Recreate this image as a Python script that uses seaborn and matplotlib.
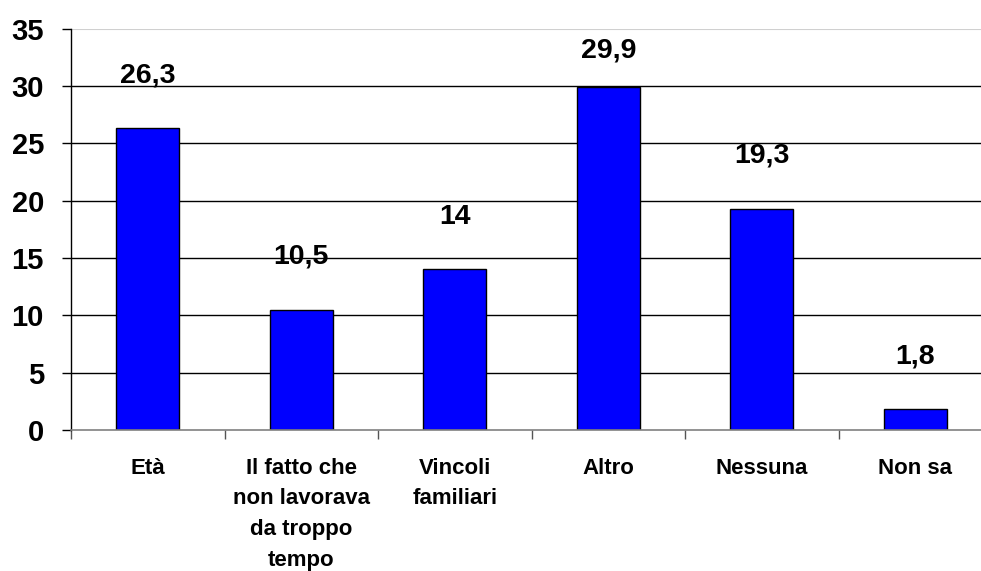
import pandas as pd
import matplotlib.pyplot as plt
import seaborn as sns

sns.set_theme(style="white")
plt.rcParams['font.family'] = ['Liberation Sans', 'DejaVu Sans']
plt.rcParams['font.weight'] = 'bold'
plt.rcParams['text.color'] = 'black'
plt.rcParams['xtick.color'] = 'black'
plt.rcParams['ytick.color'] = 'black'

categorie = ["Età", "Il fatto che\nnon lavorava\nda troppo\ntempo", "Vincoli\nfamiliari",
             "Altro", "Nessuna", "Non sa"]
valori = [26.3, 10.5, 14, 29.9, 19.3, 1.8]
etichette = ["26,3", "10,5", "14", "29,9", "19,3", "1,8"]
yticks = [0, 5, 10, 15, 20, 25, 30, 35]

df = pd.DataFrame({'cat': categorie, 'val': valori})

fig = plt.figure(figsize=(9.81, 5.71), dpi=100)
ax = fig.add_axes([0.0724, 0.247, 0.939, 0.7027])

# grid first so bars sit on top
for y in yticks[1:-1]:
    ax.axhline(y, color='black', lw=1, zorder=0)
ax.axhline(35, color='#d0d0d0', lw=1.5, zorder=0)

sns.barplot(data=df, x='cat', y='val', color='#0000FF', edgecolor='black',
            linewidth=1, width=0.41, saturation=1, ax=ax, zorder=2)

for i, (v, t) in enumerate(zip(valori, etichette)):
    ax.text(i, min(v + 4.6, 33.1), t, ha='center', va='center',
            fontsize=20.5, fontweight='bold', color='black')

ax.set_ylim(0, 35)
ax.set_xlim(-0.5, 5.5)
ax.set_yticks(yticks)
ax.set_yticklabels([str(y) for y in yticks], fontsize=21, fontweight='bold', color='black')
ax.tick_params(axis='y', left=True, length=6.5, width=1, color='black', pad=13)

ax.set_xticks(range(len(categorie)))
ax.set_xticklabels(categorie, fontsize=16, fontweight='bold', linespacing=1.6,
                   va='top', color='black')
ax.set_xticks([i - 0.5 for i in range(len(categorie) + 1)], minor=True)
ax.tick_params(axis='x', which='major', length=0, pad=20)
ax.tick_params(axis='x', which='minor', bottom=True, length=6.5, width=1, color='#555555')

ax.set_xlabel('')
ax.set_ylabel('')
for s in ['top', 'right']:
    ax.spines[s].set_visible(False)
ax.spines['left'].set_color('black')
ax.spines['left'].set_linewidth(1)
ax.spines['bottom'].set_color('#808080')
ax.spines['bottom'].set_linewidth(1.2)

fig.savefig('out.png', dpi=100)
